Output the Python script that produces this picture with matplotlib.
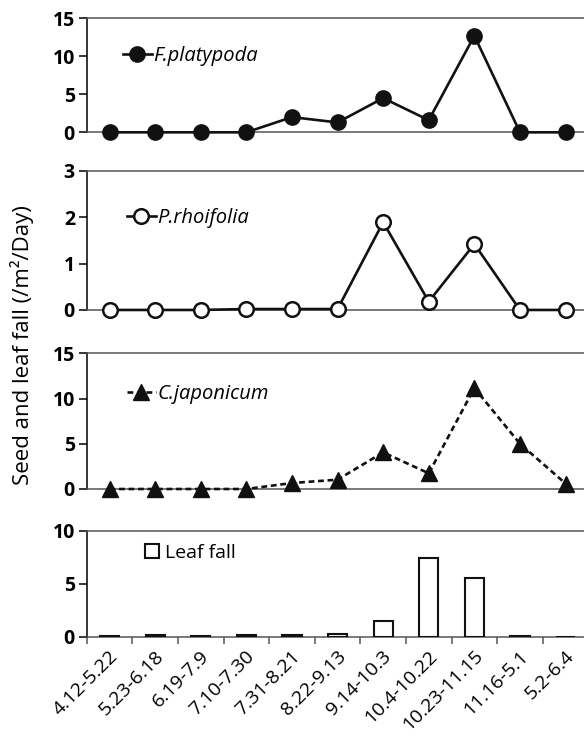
import numpy as np
import matplotlib
matplotlib.use('Agg')
import matplotlib.pyplot as plt
import matplotlib.transforms as mtrans
from matplotlib.patches import Patch

plt.rcParams['font.family'] = ['Open Sans', 'DejaVu Sans']

# 調查期間
periods = ['4.12-5.22', '5.23-6.18', '6.19-7.9', '7.10-7.30', '7.31-8.21', '8.22-9.13',
           '9.14-10.3', '10.4-10.22', '10.23-11.15', '11.16-5.1', '5.2-6.4']
# 種子落下量
f_platypoda = [0, 0, 0, 0, 2.0, 1.3, 4.5, 1.6, 12.7, 0, 0]
p_rhoifolia = [0, 0, 0, 0.02, 0.02, 0.02, 1.89, 0.18, 1.42, 0, 0]
c_japonicum = [0, 0, 0, 0, 0.66, 1.03, 4.05, 1.73, 11.16, 5.0, 0.6]
# 落葉量
leaf_fall = [0.05, 0.15, 0.1, 0.15, 0.2, 0.25, 1.5, 7.45, 5.5, 0.05, 0]

x = np.arange(len(periods))

fig = plt.figure(figsize=(5.84, 7.38), dpi=100)
left, width = 0.1485, 0.859
boxes = [(0.8207, 0.1545), (0.58, 0.1888), (0.3374, 0.1839), (0.1373, 0.1436)]
axes = [fig.add_axes([left, b, width, h]) for b, h in boxes]

ymax = [15, 3, 15, 10]
ystep = [5, 1, 5, 5]
for ax, top, step in zip(axes, ymax, ystep):
    ax.set_xlim(-0.5, len(periods) - 0.5)
    ax.set_ylim(0, top)
    ax.set_yticks(np.arange(0, top + 0.1, step))
    ax.spines['right'].set_visible(False)
    ax.spines['top'].set_color('#555555')
    ax.spines['bottom'].set_color('#555555')
    ax.spines['left'].set_color('black')
    for s in ax.spines.values():
        s.set_linewidth(1.1)
    ax.tick_params(axis='y', direction='out', length=5.5, width=1.1, pad=3,
                   labelsize=14)
    for lab in ax.get_yticklabels():
        lab.set_fontweight('bold')
    ax.tick_params(axis='x', bottom=False, labelbottom=False)

lw = 1.9
# F.platypoda
axes[0].plot(x, f_platypoda, color='#111111', lw=lw, marker='o', ms=11,
             label='F.platypoda', clip_on=False, zorder=5)
# P.rhoifolia
axes[1].plot(x, p_rhoifolia, color='#111111', lw=lw, marker='o', ms=10.5,
             mfc='white', mec='#111111', mew=1.8, label='P.rhoifolia',
             clip_on=False, zorder=5)
# C.japonicum
axes[2].plot(x, c_japonicum, color='#111111', lw=lw, ls=(0, (2.2, 1.4)), marker='^',
             ms=11, label='C.japonicum', clip_on=False, zorder=5)
# 落葉
axes[3].bar(x, leaf_fall, width=0.42, color='white', edgecolor='#111111',
            linewidth=1.5, zorder=3)

leg_pos = [(0.072, 0.67), (0.08, 0.66), (0.08, 0.70)]
for ax, pos in zip(axes[:3], leg_pos):
    leg = ax.legend(loc='center left', bbox_to_anchor=pos, frameon=False,
                    borderpad=0, borderaxespad=0, handlelength=1.45,
                    handletextpad=0.05, prop={'size': 14.5, 'style': 'italic'})

axes[3].legend(handles=[Patch(facecolor='white', edgecolor='#111111', linewidth=1.5,
                              label='Leaf fall')],
               loc='center left', bbox_to_anchor=(0.116, 0.79), frameon=False,
               borderpad=0, borderaxespad=0, handlelength=0.75, handleheight=0.75,
               handletextpad=0.3, prop={'size': 14})

# 下方的X軸
ax = axes[3]
ax.set_xticks(x)
ax.set_xticks(np.arange(-0.5, len(periods) + 0.5, 1), minor=True)
ax.tick_params(axis='x', which='major', length=0, labelbottom=True, pad=12)
ax.tick_params(axis='x', which='minor', bottom=True, direction='out', length=5,
               width=1.1, color='#555555')
ax.set_xticklabels(periods, rotation=45, ha='right', va='center',
                   rotation_mode='anchor', fontsize=14)
shift = mtrans.ScaledTranslation(4 / 72, 0, fig.dpi_scale_trans)
for lab in ax.get_xticklabels():
    lab.set_transform(lab.get_transform() + shift)

fig.text(0.037, 0.5325, 'Seed and leaf fall (/m²/Day)', rotation=90,
         ha='center', va='center', fontsize=16)

fig.savefig('out.png', dpi=100)
